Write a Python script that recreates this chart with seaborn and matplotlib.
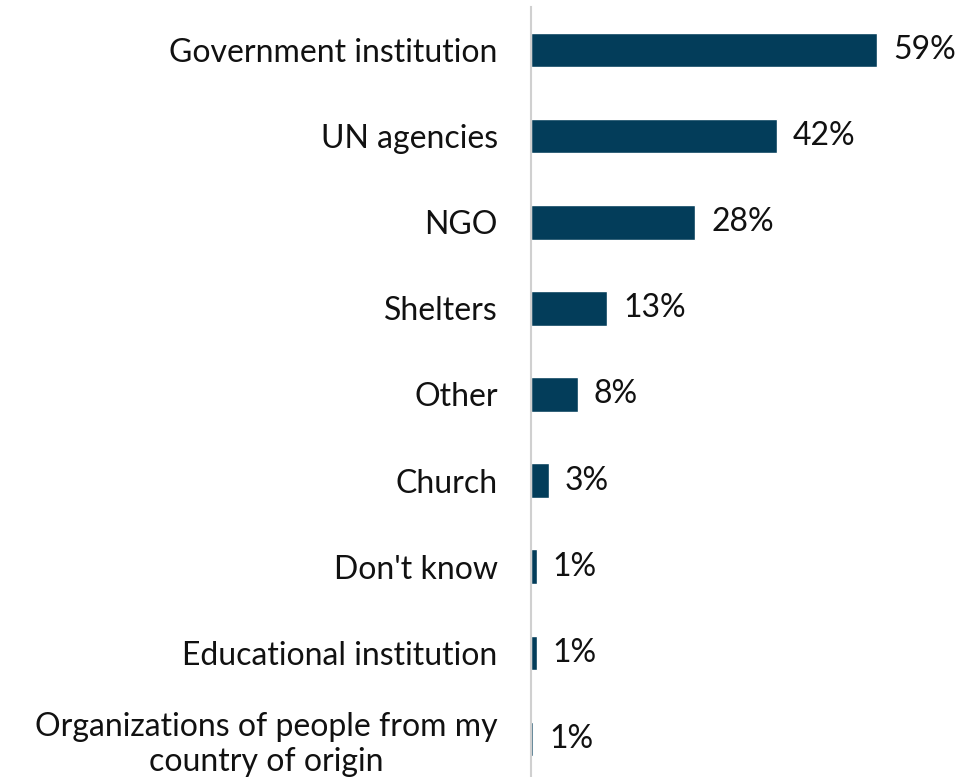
import pandas as pd
import seaborn as sns
import matplotlib.pyplot as plt

# Data
categories = ["Government institution", "UN agencies", "NGO", "Shelters", "Other",
              "Church", "Don't know", "Educational institution",
              "Organizations of people from my\ncountry of origin"]
values = [59, 42, 28, 13, 8, 3, 1.0, 1.0, 0.4]
value_labels = ["59%", "42%", "28%", "13%", "8%", "3%", "1%", "1%", "1%"]

df = pd.DataFrame({"category": categories, "value": values})

sns.set_style("white")
plt.rcParams["font.family"] = ["Lato", "DejaVu Sans"]

fig = plt.figure(figsize=(9.64, 7.77), dpi=100)
ax = fig.add_axes([531 / 964, 1 - 782 / 777, 433 / 964, 775 / 777])

sns.barplot(data=df, x="value", y="category", color="#033d5a", width=0.4,
            saturation=1, ax=ax)

ax.set_xlim(0, 433 / 5.864)
ax.set_ylim(8.5, -0.5)

# value labels
for i, (v, lab) in enumerate(zip(values, value_labels)):
    ax.text(v + 2.7, i, lab, va="center", ha="left", fontsize=23, color="#111111")

ax.set_xlabel("")
ax.set_ylabel("")
ax.set_xticks([])
ax.tick_params(axis="y", length=0, pad=24, labelsize=23, labelcolor="#111111")
for t in ax.get_yticklabels():
    t.set_multialignment("center")
    t.set_linespacing(1.2)

for side in ["top", "right", "bottom"]:
    ax.spines[side].set_visible(False)
ax.spines["left"].set_color("#d0d0d0")
ax.spines["left"].set_linewidth(1.5)

plt.savefig("out.png", dpi=100)
